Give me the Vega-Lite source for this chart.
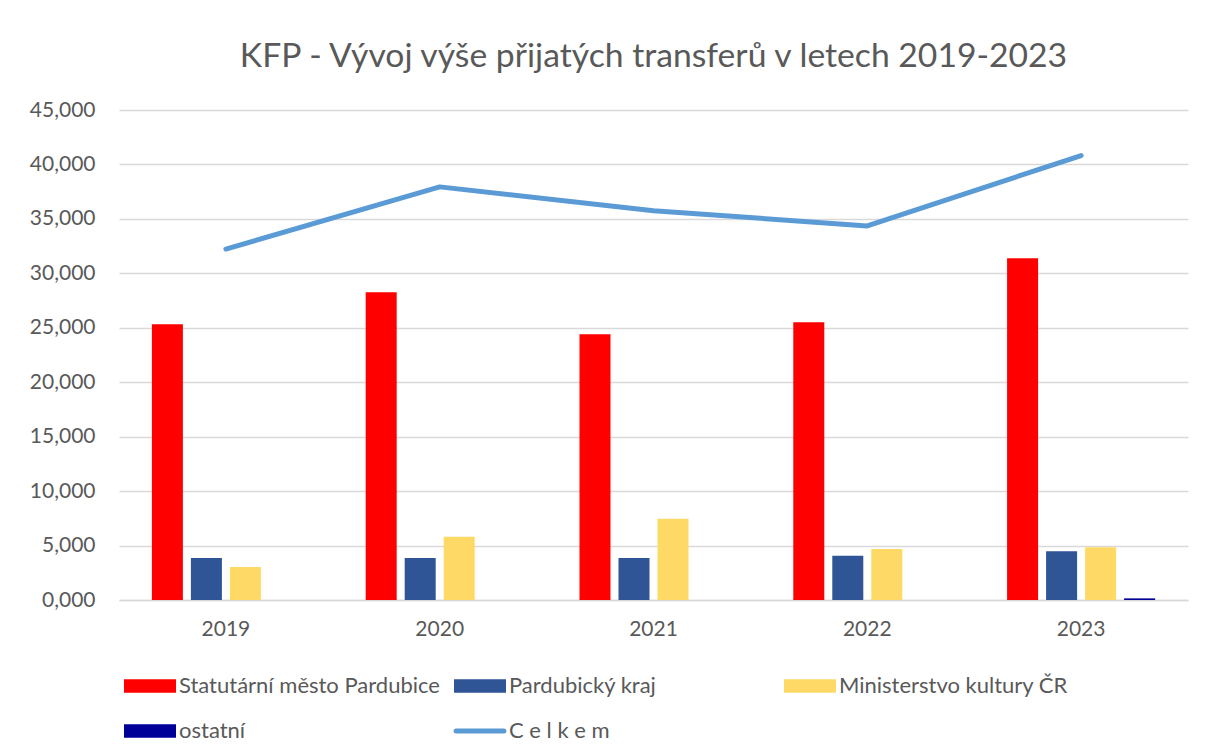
{
  "$schema": "https://vega.github.io/schema/vega-lite/v6.json",
  "width": 1069,
  "height": 490,
  "autosize": {"type": "none"},
  "padding": {"left": 119, "top": 110, "right": 20, "bottom": 156},
  "background": "white",
  "title": {
    "text": "KFP - Vývoj výše přijatých transferů v letech 2019-2023",
    "font": "Lato",
    "fontSize": 33.7,
    "fontWeight": "normal",
    "color": "#595959",
    "anchor": "middle",
    "offset": 25
  },
  "data": {
    "values": [
      {"rok": "2019", "zdroj": "Statutární město Pardubice", "hodnota": 25.32},
      {"rok": "2019", "zdroj": "Pardubický kraj", "hodnota": 3.86},
      {"rok": "2019", "zdroj": "Ministerstvo kultury ČR", "hodnota": 3.03},
      {"rok": "2019", "zdroj": "C e l k e m", "hodnota": 32.23},
      {"rok": "2020", "zdroj": "Statutární město Pardubice", "hodnota": 28.26},
      {"rok": "2020", "zdroj": "Pardubický kraj", "hodnota": 3.86},
      {"rok": "2020", "zdroj": "Ministerstvo kultury ČR", "hodnota": 5.82},
      {"rok": "2020", "zdroj": "C e l k e m", "hodnota": 37.94},
      {"rok": "2021", "zdroj": "Statutární město Pardubice", "hodnota": 24.40},
      {"rok": "2021", "zdroj": "Pardubický kraj", "hodnota": 3.86},
      {"rok": "2021", "zdroj": "Ministerstvo kultury ČR", "hodnota": 7.47},
      {"rok": "2021", "zdroj": "C e l k e m", "hodnota": 35.75},
      {"rok": "2022", "zdroj": "Statutární město Pardubice", "hodnota": 25.50},
      {"rok": "2022", "zdroj": "Pardubický kraj", "hodnota": 4.07},
      {"rok": "2022", "zdroj": "Ministerstvo kultury ČR", "hodnota": 4.68},
      {"rok": "2022", "zdroj": "C e l k e m", "hodnota": 34.35},
      {"rok": "2023", "zdroj": "Statutární město Pardubice", "hodnota": 31.38},
      {"rok": "2023", "zdroj": "Pardubický kraj", "hodnota": 4.47},
      {"rok": "2023", "zdroj": "Ministerstvo kultury ČR", "hodnota": 4.84},
      {"rok": "2023", "zdroj": "ostatní", "hodnota": 0.15},
      {"rok": "2023", "zdroj": "C e l k e m", "hodnota": 40.82}
    ]
  },
  "encoding": {
    "x": {
      "field": "rok",
      "type": "nominal",
      "scale": {"paddingInner": 0, "paddingOuter": 0},
      "axis": {
        "title": null,
        "labelAngle": 0,
        "ticks": false,
        "grid": false,
        "domainColor": "#d9d9d9",
        "domainWidth": 1.5,
        "labelFont": "Lato",
        "labelFontSize": 21,
        "labelColor": "#595959",
        "labelPadding": 18
      }
    },
    "y": {
      "field": "hodnota",
      "type": "quantitative",
      "scale": {"domain": [0, 45], "nice": false},
      "axis": {
        "title": null,
        "values": [0, 5, 10, 15, 20, 25, 30, 35, 40, 45],
        "labelExpr": "replace(format(datum.value, '.3f'), '.', ',')",
        "domain": false,
        "ticks": false,
        "gridColor": "#d9d9d9",
        "gridWidth": 1.5,
        "labelFont": "Lato",
        "labelFontSize": 21,
        "labelColor": "#595959",
        "labelPadding": 24
      }
    },
    "color": {
      "field": "zdroj",
      "type": "nominal",
      "scale": {
        "domain": ["Statutární město Pardubice", "Pardubický kraj", "Ministerstvo kultury ČR", "ostatní", "C e l k e m"],
        "range": ["#ff0000", "#2f5597", "#ffd966", "#000099", "#5b9bd5"]
      },
      "legend": {
        "title": null,
        "orient": "none",
        "legendX": 4,
        "legendY": 565,
        "direction": "horizontal",
        "columns": 3,
        "gridAlign": "all",
        "columnPadding": 6,
        "rowPadding": 23,
        "padding": 0,
        "labelFont": "Lato",
        "labelFontSize": 22,
        "labelColor": "#595959",
        "labelOffset": 18,
        "symbolOffset": 16,
        "labelLimit": 400,
        "symbolSize": 2704,
        "symbolOpacity": 1,
        "encode": {
          "symbols": {
            "update": {
              "shape": {"signal": "datum.value === 'C e l k e m' ? 'M-0.92,0H0.92' : 'M-1,-0.263H1V0.263H-1Z'"},
              "fill": {"signal": "datum.value === 'C e l k e m' ? 'transparent' : scale('color', datum.value)"},
              "stroke": {"signal": "datum.value === 'C e l k e m' ? scale('color', datum.value) : 'transparent'"},
              "strokeWidth": {"signal": "datum.value === 'C e l k e m' ? 5 : 0"},
              "strokeCap": {"value": "round"},
              "opacity": {"value": 1}
            }
          }
        }
      }
    }
  },
  "layer": [
    {
      "transform": [{"filter": "datum.zdroj !== 'C e l k e m'"}],
      "mark": {"type": "bar"},
      "encoding": {
        "xOffset": {
          "field": "zdroj",
          "type": "nominal",
          "scale": {
            "domain": ["Statutární město Pardubice", "Pardubický kraj", "Ministerstvo kultury ČR", "ostatní"],
            "paddingInner": 0.205,
            "paddingOuter": 0.843
          }
        }
      }
    },
    {
      "transform": [{"filter": "datum.zdroj === 'C e l k e m'"}],
      "mark": {"type": "line", "strokeWidth": 5, "strokeCap": "round", "strokeJoin": "round"},
      "encoding": {}
    }
  ],
  "config": {
    "view": {"stroke": null}
  }
}
